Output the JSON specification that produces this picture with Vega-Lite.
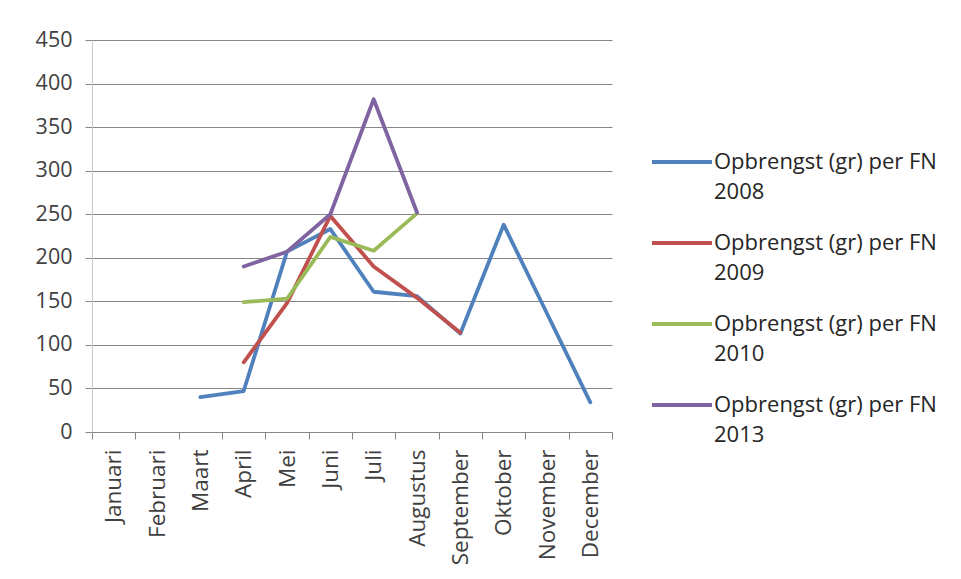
{
  "$schema": "https://vega.github.io/schema/vega-lite/v6.json",
  "width": 520,
  "height": 392,
  "autosize": {"type": "none"},
  "padding": {"left": 92, "top": 40, "right": 349, "bottom": 147},
  "background": "white",
  "config": {
    "font": "Open Sans",
    "view": {"stroke": null},
    "axis": {"labelColor": "#404040", "labelFontSize": 21.5, "domainColor": "#868686", "tickColor": "#868686", "gridColor": "#868686", "gridOpacity": 1}
  },
  "data": {
    "values": [
      {"maand": "Maart", "reeks": "Opbrengst (gr) per FN 2008", "gram": 40},
      {"maand": "April", "reeks": "Opbrengst (gr) per FN 2008", "gram": 47},
      {"maand": "Mei", "reeks": "Opbrengst (gr) per FN 2008", "gram": 207},
      {"maand": "Juni", "reeks": "Opbrengst (gr) per FN 2008", "gram": 233},
      {"maand": "Juli", "reeks": "Opbrengst (gr) per FN 2008", "gram": 161},
      {"maand": "Augustus", "reeks": "Opbrengst (gr) per FN 2008", "gram": 156},
      {"maand": "September", "reeks": "Opbrengst (gr) per FN 2008", "gram": 113},
      {"maand": "Oktober", "reeks": "Opbrengst (gr) per FN 2008", "gram": 238},
      {"maand": "November", "reeks": "Opbrengst (gr) per FN 2008", "gram": 136},
      {"maand": "December", "reeks": "Opbrengst (gr) per FN 2008", "gram": 34},
      {"maand": "April", "reeks": "Opbrengst (gr) per FN 2009", "gram": 80},
      {"maand": "Mei", "reeks": "Opbrengst (gr) per FN 2009", "gram": 148},
      {"maand": "Juni", "reeks": "Opbrengst (gr) per FN 2009", "gram": 248},
      {"maand": "Juli", "reeks": "Opbrengst (gr) per FN 2009", "gram": 190},
      {"maand": "Augustus", "reeks": "Opbrengst (gr) per FN 2009", "gram": 154},
      {"maand": "September", "reeks": "Opbrengst (gr) per FN 2009", "gram": 114},
      {"maand": "April", "reeks": "Opbrengst (gr) per FN 2010", "gram": 149},
      {"maand": "Mei", "reeks": "Opbrengst (gr) per FN 2010", "gram": 153},
      {"maand": "Juni", "reeks": "Opbrengst (gr) per FN 2010", "gram": 224},
      {"maand": "Juli", "reeks": "Opbrengst (gr) per FN 2010", "gram": 208},
      {"maand": "Augustus", "reeks": "Opbrengst (gr) per FN 2010", "gram": 251},
      {"maand": "April", "reeks": "Opbrengst (gr) per FN 2013", "gram": 190},
      {"maand": "Mei", "reeks": "Opbrengst (gr) per FN 2013", "gram": 207},
      {"maand": "Juni", "reeks": "Opbrengst (gr) per FN 2013", "gram": 250},
      {"maand": "Juli", "reeks": "Opbrengst (gr) per FN 2013", "gram": 382},
      {"maand": "Augustus", "reeks": "Opbrengst (gr) per FN 2013", "gram": 252}
    ]
  },
  "mark": {"type": "line", "strokeWidth": 3.8, "strokeCap": "round", "strokeJoin": "round"},
  "encoding": {
    "x": {
      "field": "maand",
      "type": "ordinal",
      "sort": ["Januari", "Februari", "Maart", "April", "Mei", "Juni", "Juli", "Augustus", "September", "Oktober", "November", "December"],
      "scale": {"domain": ["Januari", "Februari", "Maart", "April", "Mei", "Juni", "Juli", "Augustus", "September", "Oktober", "November", "December"], "paddingInner": 0, "paddingOuter": 0},
      "axis": {"title": null, "labelAngle": -90, "labelAlign": "right", "labelBaseline": "middle", "labelPadding": 10, "labelFontSize": 22.5, "tickBand": "extent", "tickSize": 7, "domainWidth": 1}
    },
    "y": {
      "field": "gram",
      "type": "quantitative",
      "scale": {"domain": [0, 450], "nice": false},
      "axis": {"title": null, "values": [0, 50, 100, 150, 200, 250, 300, 350, 400, 450], "tickSize": 7, "labelPadding": 13, "grid": true, "domainColor": "#c8c8c8"}
    },
    "color": {
      "field": "reeks",
      "type": "nominal",
      "scale": {"range": ["#4F81BD", "#C0504D", "#9BBB59", "#8064A2"]},
      "legend": {
        "title": null,
        "orient": "none",
        "legendX": 558,
        "legendY": 90,
        "symbolType": "stroke",
        "symbolSize": 3600,
        "symbolStrokeWidth": 3.8,
        "labelFontSize": 22,
        "labelColor": "#262626",
        "labelOffset": 0,
        "labelLimit": 300,
        "rowPadding": 8,
        "labelExpr": "[slice(datum.label, 0, 21), slice(datum.label, 22)]",
        "encode": {"labels": {"update": {"lineHeight": {"value": 30}}}}
      }
    }
  }
}
